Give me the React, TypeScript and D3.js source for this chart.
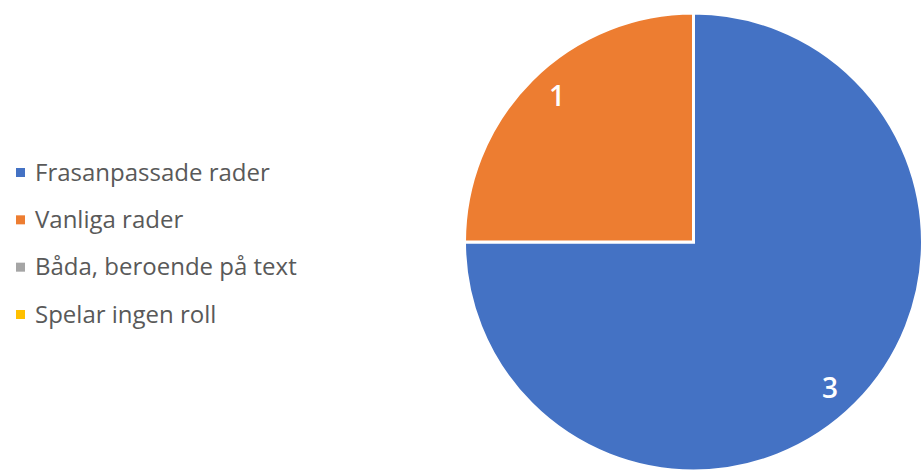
import React from "react";
import * as d3 from "d3";

const categories = ["Frasanpassade rader", "Vanliga rader", "Båda, beroende på text", "Spelar ingen roll"];
const values = [3, 1, 0, 0];
const colors = ["#4472C4", "#ED7D31", "#A5A5A5", "#FFC000"];

export default function App() {
  const W = 924, H = 473;
  const cx = 693.5, cy = 242, r = 229;
  const data = categories.map((c, i) => ({ c, v: values[i], color: colors[i] }));
  const pie = d3.pie<any>().value((d) => d.v).sort(null);
  const arcs = pie(data);
  const arc = d3.arc<any>().innerRadius(0).outerRadius(r);
  const labelR = 200;
  const rot = (2 * Math.PI) / 180;
  const legendY = d3.scalePoint<string>().domain(categories).range([172, 314]);
  return (
    <svg width={W} height={H} style={{ position: "absolute", left: 0, top: 0 }}>
      <rect width={W} height={H} fill="#fff" />
      <g transform={`translate(${cx},${cy})`}>
        {arcs.filter((a) => a.data.v > 0).map((a, i) => (
          <path key={i} d={arc(a) as string} fill={a.data.color} stroke="#fff" strokeWidth={3} strokeLinejoin="miter" />
        ))}
        {arcs.filter((a) => a.data.v > 0).map((a, i) => {
          const ang = (a.startAngle + a.endAngle) / 2 + rot;
          const x = Math.sin(ang) * labelR;
          const y = -Math.cos(ang) * labelR;
          return (
            <text key={i} x={x} y={y} dy="0.36em" textAnchor="middle" fill="#fff"
              fontFamily="'Open Sans', sans-serif" fontSize={28} fontWeight={600}>{a.data.v}</text>
          );
        })}
      </g>
      {categories.map((c, i) => (
        <g key={c} transform={`translate(0,${legendY(c)})`}>
          <rect x={16} y={-4} width={9} height={9} fill={colors[i]} />
          <text x={35} y={0} dy="0.36em" fill="#595959" fontFamily="'Open Sans', sans-serif" fontSize={24}>{c}</text>
        </g>
      ))}
    </svg>
  );
}
